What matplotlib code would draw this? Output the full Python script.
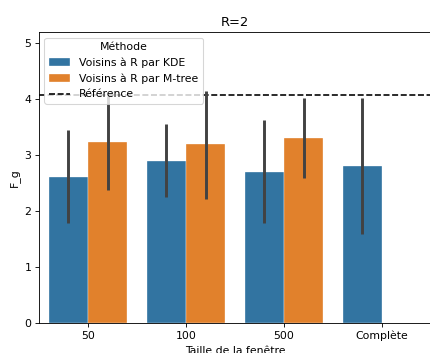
import numpy as np
import matplotlib.pyplot as plt

fenetres = ["50", "100", "500", "Complète"]
methodes = ["Voisins à R par KDE", "Voisins à R par M-tree"]

# moyennes (NaN = pas de barre)
kde_moy = [2.61, 2.90, 2.71, 2.81]
mtree_moy = [3.24, 3.20, 3.31, np.nan]

# intervalles de confiance (bas, haut)
kde_bas = [1.79, 2.25, 1.80, 1.59]
kde_haut = [3.45, 3.56, 3.63, 4.03]
mtree_bas = [2.39, 2.23, 2.60, np.nan]
mtree_haut = [4.06, 4.16, 4.02, np.nan]

reference = 4.08

couleurs = ["#3274a1", "#e1812c"]


def main():
    dpi = 78
    fig = plt.figure(figsize=(430 / dpi, 353 / dpi), dpi=dpi)
    ax = fig.add_axes([39 / 430, 29.7 / 353, 392 / 430, 291 / 353])

    x = np.arange(len(fenetres))
    largeur = 0.4
    series = [(kde_moy, kde_bas, kde_haut), (mtree_moy, mtree_bas, mtree_haut)]
    barres = []
    for i, (moy, bas, haut) in enumerate(series):
        pos = x - largeur / 2 + i * largeur
        b = ax.bar(pos, moy, width=largeur, color=couleurs[i], label=methodes[i],
                   edgecolor="white", linewidth=0.3)
        barres.append(b)
        ax.vlines(pos, bas, haut, color="0.26", linewidth=2.7, zorder=3)

    ligne = ax.axhline(reference, color="black", linestyle="--", linewidth=1.5,
                       label="Référence", zorder=1)

    ax.set_xticks(x)
    ax.set_xticklabels(fenetres)
    ax.set_xlim(-0.5, len(fenetres) - 0.5)
    ax.set_ylim(0, 5.2)
    ax.set_xlabel("Taille de la fenêtre")
    ax.set_ylabel("F_g")
    ax.set_title("R=2")

    ax.legend(barres + [ligne], methodes + ["Référence"],
              title="Méthode", loc="upper left")

    fig.savefig("out.png", dpi=dpi)


if __name__ == "__main__":
    main()
